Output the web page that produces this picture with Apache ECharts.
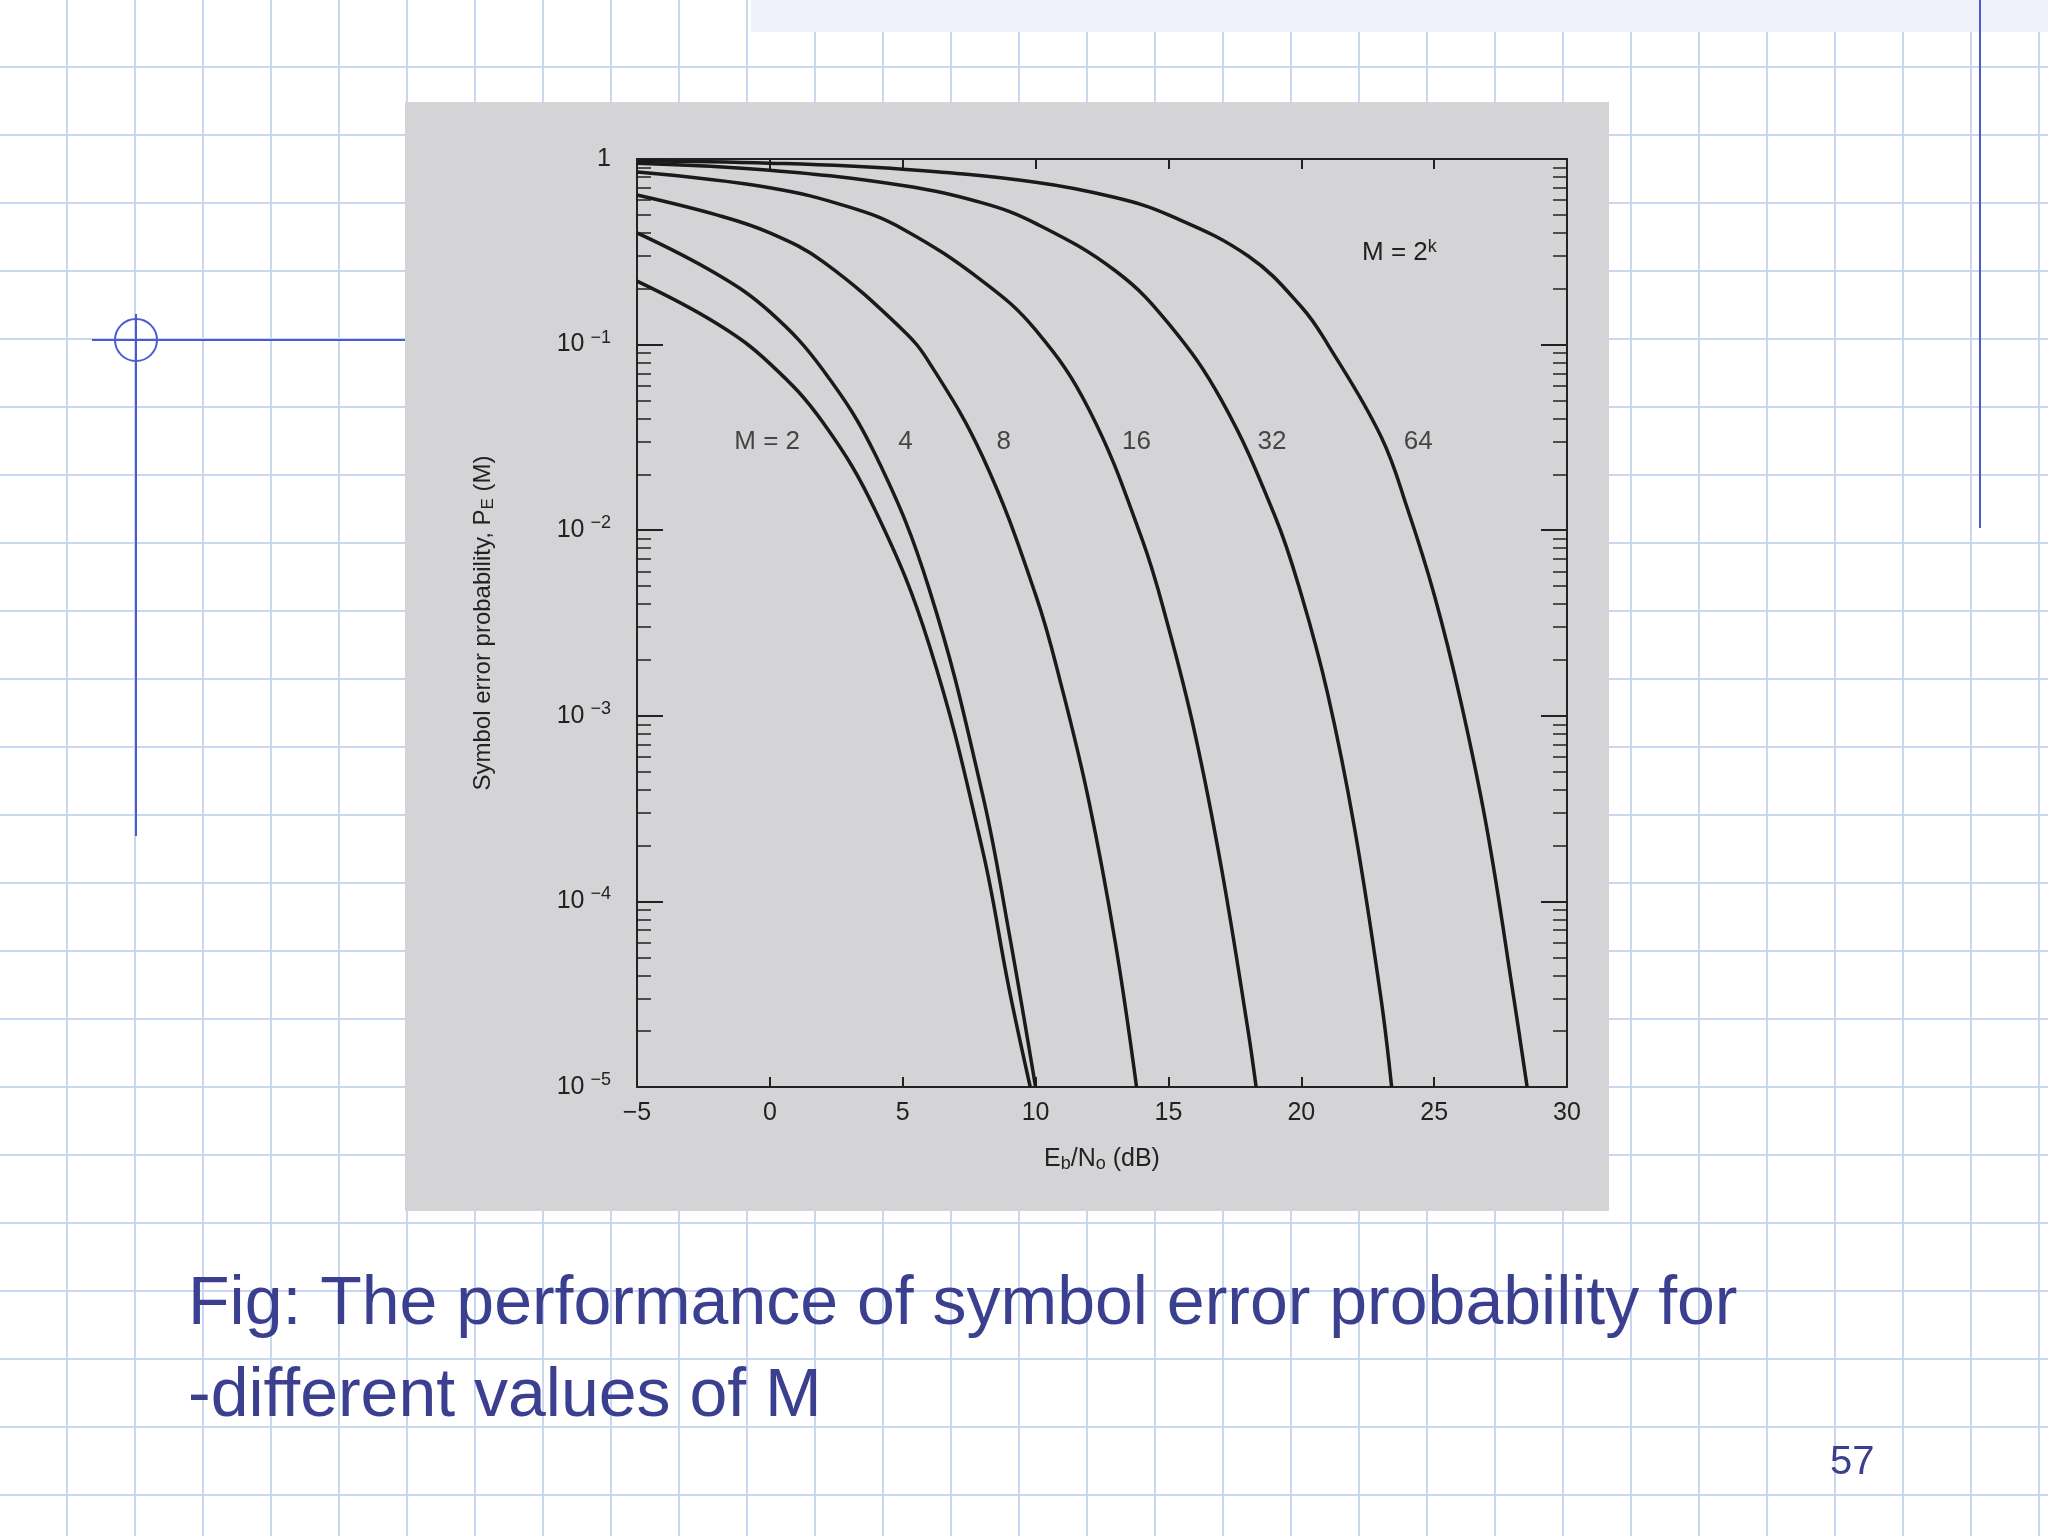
<!DOCTYPE html>
<html>
<head>
<meta charset="utf-8">
<script src="https://cdn.jsdelivr.net/npm/echarts@6/dist/echarts.min.js"></script>
<style>
  html, body { margin: 0; padding: 0; }
  body {
    width: 2048px; height: 1536px; overflow: hidden;
    background-color: #fff;
    background-image:
      linear-gradient(to right, #c9d6ef 2px, transparent 2px),
      linear-gradient(to bottom, #c9d6ef 2px, transparent 2px);
    background-size: 68px 68px;
    background-position: -2px -2px;
  }
  #chart { position: absolute; left: 0; top: 0; width: 2048px; height: 1536px; }
</style>
</head>
<body>
<div id="chart"></div>
<script>
// 数据: Eb/N0 (dB) 与符号错误概率
var m2 = [[-5, 0.22], [-2, 0.13], [0, 0.079], [2, 0.038], [4, 0.0125], [6, 0.0024], [8, 1.9e-4], [9, 3.4e-5], [9.8, 1e-5]];
var m4 = [[-5, 0.40], [-2, 0.24], [0, 0.15], [2, 0.073], [4, 0.025], [6, 0.0048], [8, 3.8e-4], [9, 6.8e-5], [10, 1e-5]];
var m8 = [[-5, 0.64], [-2, 0.50], [0, 0.40], [2, 0.28], [5, 0.12], [6, 0.08], [8, 0.025], [10, 0.0045], [11, 0.0014], [12, 3.5e-4], [13, 6e-5], [13.8, 1e-5]];
var m16 = [[-5, 0.85], [0, 0.70], [3, 0.55], [5, 0.42], [8, 0.22], [10, 0.12], [12, 0.045], [14, 0.009], [15, 0.003], [16, 8e-4], [17, 1.5e-4], [18, 2e-5], [18.3, 1e-5]];
var m32 = [[-5, 0.95], [0, 0.87], [5, 0.72], [8, 0.58], [10, 0.45], [13, 0.25], [15, 0.13], [17, 0.05], [19, 0.012], [20, 0.0045], [21, 0.0013], [22, 2.5e-4], [23, 3e-5], [23.4, 1e-5]];
var m64 = [[-5, 0.98], [0, 0.95], [5, 0.88], [10, 0.75], [13, 0.62], [15, 0.5], [18, 0.3], [20, 0.16], [21, 0.1], [23, 0.032], [24, 0.013], [25, 0.0045], [26, 0.0012], [27, 2.4e-4], [28, 3e-5], [28.5, 1e-5]];
var seriesNames = ['M = 2', '4', '8', '16', '32', '64'];
var seriesData = [m2, m4, m8, m16, m32, m64];
// 标签位置 (数据坐标)
var labelPos = [[-0.1, 0.03], [5.1, 0.03], [8.8, 0.03], [13.8, 0.03], [18.9, 0.03], [24.4, 0.03]];

var font = 'Liberation Sans';
var chart = echarts.init(document.getElementById('chart'));

function yLabel(v) {
  var e = Math.round(Math.log10(v));
  if (e === 0) return '{b|1}';
  return '{b|10}{s|' + '\u2212' + (-e) + '}';
}

var tickStyle = { color: '#222', width: 2 };

var option = {
  animation: false,
  grid: { left: 637, right: 481, top: 159, bottom: 449 },
  graphic: [
    { type: 'rect', z: -10, shape: { x: 405, y: 102, width: 1204, height: 1109 }, style: { fill: '#d4d3d6' } },
    { type: 'rect', z: -10, shape: { x: 751, y: 0, width: 1297, height: 32 }, style: { fill: '#eef0fa' } },
    { type: 'line', shape: { x1: 92, y1: 340, x2: 405, y2: 340 }, style: { stroke: '#4a5bd0', lineWidth: 2 } },
    { type: 'line', shape: { x1: 136, y1: 314, x2: 136, y2: 836 }, style: { stroke: '#4a5bd0', lineWidth: 2 } },
    { type: 'circle', shape: { cx: 136, cy: 340, r: 21 }, style: { fill: 'none', stroke: '#4a5bd0', lineWidth: 2 } },
    { type: 'line', shape: { x1: 1980, y1: 0, x2: 1980, y2: 528 }, style: { stroke: '#4a5bd0', lineWidth: 2 } },
    { type: 'text', left: 188, top: 1271, style: { text: 'Fig: The performance of symbol error probability for', font: '68px ' + font, fill: '#3b3f8f' } },
    { type: 'text', left: 188, top: 1363, style: { text: '-different values of M', font: '68px ' + font, fill: '#3b3f8f' } },
    { type: 'text', left: 1830, top: 1443, style: { text: '57', font: '40px ' + font, fill: '#3b3f8f' } },
    { type: 'text', left: 1362, top: 238, style: { rich: { b: { fontSize: 26, fontFamily: font, fill: '#222' }, s: { fontSize: 18, fontFamily: font, fill: '#222', verticalAlign: 'top', padding: [0, 0, 12, 0] } }, text: '{b|M = 2}{s|k}' } }
  ],
  xAxis: [{
    type: 'value', min: -5, max: 30, interval: 5,
    name: '{b|E}{s|b}{b|/N}{s|o}{b| (dB)}', nameLocation: 'middle', nameGap: 58,
    nameTextStyle: { rich: { b: { fontSize: 25, fontFamily: font, color: '#222' }, s: { fontSize: 18, fontFamily: font, color: '#222', verticalAlign: 'bottom', padding: [10, 0, 0, 0] } } },
    axisLine: { onZero: false, lineStyle: tickStyle },
    axisTick: { inside: true, length: 10, lineStyle: tickStyle },
    axisLabel: { fontSize: 25, fontFamily: font, color: '#222', margin: 14,
      formatter: function (v) { return v < 0 ? '\u2212' + (-v) : String(v); } },
    splitLine: { show: false }
  }, {
    type: 'value', min: -5, max: 30, interval: 5, position: 'top',
    axisLine: { onZero: false, lineStyle: tickStyle },
    axisTick: { inside: true, length: 10, lineStyle: tickStyle },
    axisLabel: { show: false }, splitLine: { show: false }
  }],
  yAxis: [{
    type: 'log', min: 1e-5, max: 1, logBase: 10, position: 'left',
    name: '{b|Symbol error probability, P}{s|E}{b| (M)}', nameLocation: 'middle', nameGap: 140, nameRotate: 90,
    nameTextStyle: { rich: { b: { fontSize: 24, fontFamily: font, color: '#222' }, s: { fontSize: 17, fontFamily: font, color: '#222', padding: [10, 0, 0, 0] } } },
    axisLine: { show: true, onZero: false, lineStyle: tickStyle },
    axisTick: { inside: true, length: 26, lineStyle: tickStyle },
    minorTick: { show: true, splitNumber: 9, length: 14, lineStyle: { color: '#222', width: 1.5 } },
    axisLabel: { formatter: yLabel, margin: 26, rich: {
      b: { fontSize: 25, fontFamily: font, color: '#222' },
      s: { fontSize: 18, fontFamily: font, color: '#222', verticalAlign: 'top', padding: [0, 0, 14, 6] } } },
    splitLine: { show: false }
  }, {
    type: 'log', min: 1e-5, max: 1, logBase: 10, position: 'right',
    axisLine: { show: true, onZero: false, lineStyle: tickStyle },
    axisTick: { inside: true, length: 26, lineStyle: tickStyle },
    minorTick: { show: true, splitNumber: 9, length: 14, lineStyle: { color: '#222', width: 1.5 } },
    axisLabel: { show: false }, splitLine: { show: false }
  }],
  series: seriesData.map(function (d, i) {
    return {
      name: seriesNames[i], type: 'line', data: d, smooth: 0.4, symbol: 'none',
      lineStyle: { color: '#1a1a1a', width: 3.5 }
    };
  }).concat([{
    type: 'scatter', symbolSize: 0, silent: true,
    data: labelPos.map(function (p, i) { return { value: p, name: seriesNames[i] }; }),
    label: { show: true, position: 'inside', formatter: '{b}', fontSize: 26, fontFamily: font, color: '#222' }
  }])
};
chart.setOption(option);
</script>
</body>
</html>
